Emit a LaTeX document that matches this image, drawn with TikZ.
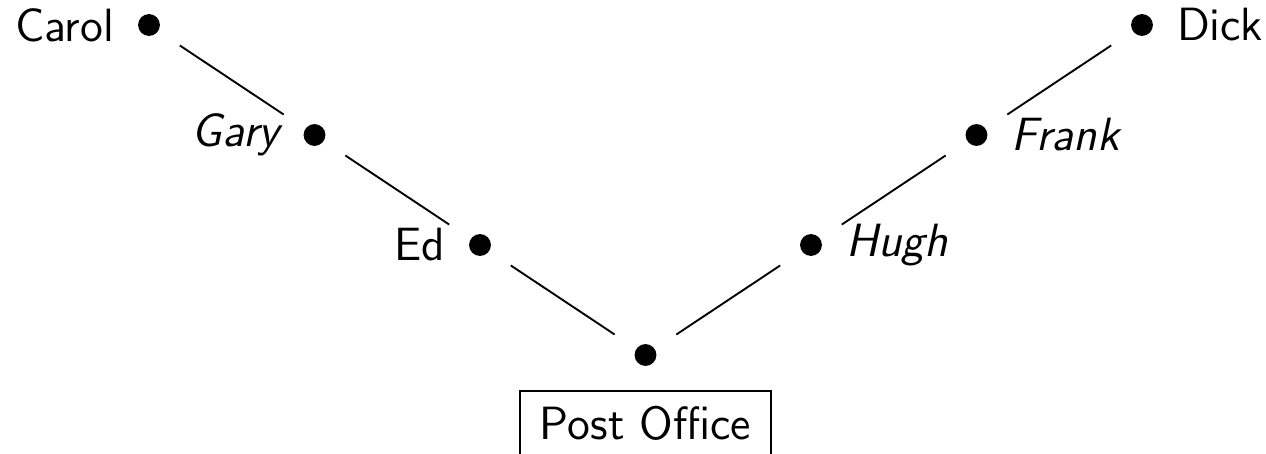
\documentclass[tikz,border=0pt]{standalone}
\begin{document}
\begin{tikzpicture}[x=0.238pt,y=-0.238pt,font=\sffamily\fontsize{11.1}{13.3}\selectfont,
  dot/.style={circle,fill=black,inner sep=0pt,minimum size=5.2pt},
  conn/.style={line width=0.45pt,shorten <=6pt,shorten >=6pt},
  lbl/.style={label distance=2pt},
  pobox/.style={draw,line width=0.45pt,inner xsep=4.8pt,inner ysep=3.4pt,text depth=1.8pt}]
\useasboundingbox (0,0) rectangle (1266,454);
\node[dot,label={[lbl]left:Carol}] (carol) at (149,25) {};
\node[dot,label={[lbl]left:\itshape Gary}] (gary) at (314.5,135) {};
\node[dot,label={[lbl]left:Ed}] (ed) at (480,245) {};
\node[dot] (po) at (645.5,355) {};
\node[dot,label={[lbl]right:\itshape Hugh}] (hugh) at (811,245) {};
\node[dot,label={[lbl]right:\itshape Frank}] (frank) at (976.5,135) {};
\node[dot,label={[lbl]right:Dick}] (dick) at (1142,25) {};
\node[pobox,anchor=base] (pobox) at (645.5,439) {Post Office};
\draw[conn] (carol) -- (gary);
\draw[conn] (gary) -- (ed);
\draw[conn] (ed) -- (po);
\draw[conn] (po) -- (hugh);
\draw[conn] (hugh) -- (frank);
\draw[conn] (frank) -- (dick);
\end{tikzpicture}
\end{document}
